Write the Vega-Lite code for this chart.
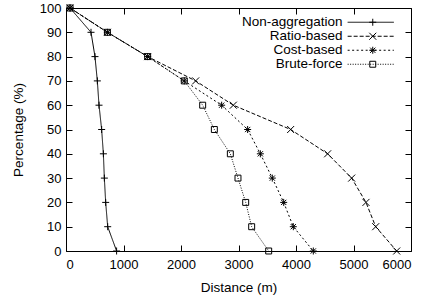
{
  "$schema": "https://vega.github.io/schema/vega-lite/v6.json",
  "width": 345,
  "height": 243,
  "autosize": {"type": "none"},
  "padding": {"left": 66, "top": 8, "right": 14, "bottom": 46},
  "config": {
    "font": "Liberation Sans",
    "view": {"stroke": "black", "strokeWidth": 1},
    "axis": {
      "domain": false,
      "grid": false,
      "tickColor": "black",
      "tickSize": 6,
      "offset": -6,
      "labelColor": "black",
      "labelFontSize": 13,
      "titleColor": "black",
      "titleFontSize": 13.5,
      "titleFontWeight": "normal"
    },
    "legend": {
      "labelFontSize": 13.5,
      "labelColor": "black",
      "rowPadding": -1,
      "padding": 0
    }
  },
  "data": {
    "values": [
      {"series": "Non-aggregation", "dist": 70, "pct": 100},
      {"series": "Non-aggregation", "dist": 435, "pct": 90},
      {"series": "Non-aggregation", "dist": 504, "pct": 80},
      {"series": "Non-aggregation", "dist": 545, "pct": 70},
      {"series": "Non-aggregation", "dist": 574, "pct": 60},
      {"series": "Non-aggregation", "dist": 620, "pct": 50},
      {"series": "Non-aggregation", "dist": 650, "pct": 40},
      {"series": "Non-aggregation", "dist": 667, "pct": 30},
      {"series": "Non-aggregation", "dist": 690, "pct": 20},
      {"series": "Non-aggregation", "dist": 725, "pct": 10},
      {"series": "Non-aggregation", "dist": 880, "pct": 0},
      {"series": "Ratio-based", "dist": 70, "pct": 100},
      {"series": "Ratio-based", "dist": 720, "pct": 90},
      {"series": "Ratio-based", "dist": 1420, "pct": 80},
      {"series": "Ratio-based", "dist": 2255, "pct": 70},
      {"series": "Ratio-based", "dist": 2910, "pct": 60},
      {"series": "Ratio-based", "dist": 3907, "pct": 50},
      {"series": "Ratio-based", "dist": 4550, "pct": 40},
      {"series": "Ratio-based", "dist": 4968, "pct": 30},
      {"series": "Ratio-based", "dist": 5217, "pct": 20},
      {"series": "Ratio-based", "dist": 5386, "pct": 10},
      {"series": "Ratio-based", "dist": 5751, "pct": 0},
      {"series": "Cost-based", "dist": 70, "pct": 100},
      {"series": "Cost-based", "dist": 720, "pct": 90},
      {"series": "Cost-based", "dist": 1420, "pct": 80},
      {"series": "Cost-based", "dist": 2057, "pct": 70},
      {"series": "Cost-based", "dist": 2707, "pct": 60},
      {"series": "Cost-based", "dist": 3159, "pct": 50},
      {"series": "Cost-based", "dist": 3380, "pct": 40},
      {"series": "Cost-based", "dist": 3588, "pct": 30},
      {"series": "Cost-based", "dist": 3786, "pct": 20},
      {"series": "Cost-based", "dist": 3953, "pct": 10},
      {"series": "Cost-based", "dist": 4301, "pct": 0},
      {"series": "Brute-force", "dist": 70, "pct": 100},
      {"series": "Brute-force", "dist": 720, "pct": 90},
      {"series": "Brute-force", "dist": 1420, "pct": 80},
      {"series": "Brute-force", "dist": 2057, "pct": 70},
      {"series": "Brute-force", "dist": 2377, "pct": 60},
      {"series": "Brute-force", "dist": 2580, "pct": 50},
      {"series": "Brute-force", "dist": 2858, "pct": 40},
      {"series": "Brute-force", "dist": 2991, "pct": 30},
      {"series": "Brute-force", "dist": 3125, "pct": 20},
      {"series": "Brute-force", "dist": 3229, "pct": 10},
      {"series": "Brute-force", "dist": 3525, "pct": 0}
    ]
  },
  "layer": [
    {
      "mark": {"type": "line", "color": "black", "strokeWidth": 1},
      "encoding": {
        "x": {
          "field": "dist", "type": "quantitative",
          "scale": {"domain": [0, 6000], "nice": false},
          "axis": {
            "orient": "bottom", "values": [0, 1000, 2000, 3000, 4000, 5000, 6000],
            "format": "d", "labelPadding": 7, "title": "Distance (m)",
            "titleX": 172.5, "titleY": 42, "titleBaseline": "middle"
          }
        },
        "y": {
          "field": "pct", "type": "quantitative",
          "scale": {"domain": [0, 100], "nice": false},
          "axis": {
            "orient": "left", "values": [0, 10, 20, 30, 40, 50, 60, 70, 80, 90, 100],
            "format": "d", "labelPadding": 5, "title": "Percentage (%)",
            "titleAngle": 270, "titleX": -54, "titleY": 121.5,
            "titleAlign": "center", "titleBaseline": "middle"
          }
        },
        "strokeDash": {
          "field": "series", "type": "nominal",
          "scale": {
            "domain": ["Non-aggregation", "Ratio-based", "Cost-based", "Brute-force"],
            "range": [[1, 0], [4, 2], [2, 2.5], [1, 1.5]]
          },
          "legend": {
            "title": null,
            "orient": "none",
            "legendX": 298,
            "legendY": 7.5,
            "symbolType": "M-50,0M-7.7,0L7.7,0",
            "symbolSize": 36,
            "symbolStrokeWidth": 1,
            "symbolStrokeColor": "black",
            "labelAlign": "right",
            "labelOffset": -35
          }
        }
      }
    },
    {
      "mark": {"type": "point", "color": "black", "filled": false, "strokeWidth": 1, "size": 49, "opacity": 1},
      "encoding": {
        "x": {
          "field": "dist", "type": "quantitative",
          "axis": {"orient": "top", "values": [0, 1000, 2000, 3000, 4000, 5000, 6000], "labels": false, "title": null}
        },
        "y": {
          "field": "pct", "type": "quantitative",
          "axis": {"orient": "right", "values": [0, 10, 20, 30, 40, 50, 60, 70, 80, 90, 100], "labels": false, "title": null}
        },
        "shape": {
          "field": "series", "type": "nominal",
          "sort": ["Non-aggregation", "Ratio-based", "Cost-based", "Brute-force"],
          "scale": {
            "range": [
              "M-1,0L1,0M0,-1L0,1",
              "M-1,-1L1,1M-1,1L1,-1",
              "M-1,0L1,0M0,-1L0,1M-0.75,-0.75L0.75,0.75M-0.75,0.75L0.75,-0.75",
              "M-0.85,-0.85L0.85,-0.85L0.85,0.85L-0.85,0.85Z"
            ]
          },
          "legend": {
            "title": null,
            "orient": "none",
            "legendX": 300,
            "legendY": 7.5,
            "symbolSize": 49,
            "symbolStrokeWidth": 1,
            "symbolStrokeColor": "black",
            "symbolFillColor": "transparent",
            "labelOpacity": 0,
            "labelLimit": 10
          }
        }
      }
    }
  ]
}
